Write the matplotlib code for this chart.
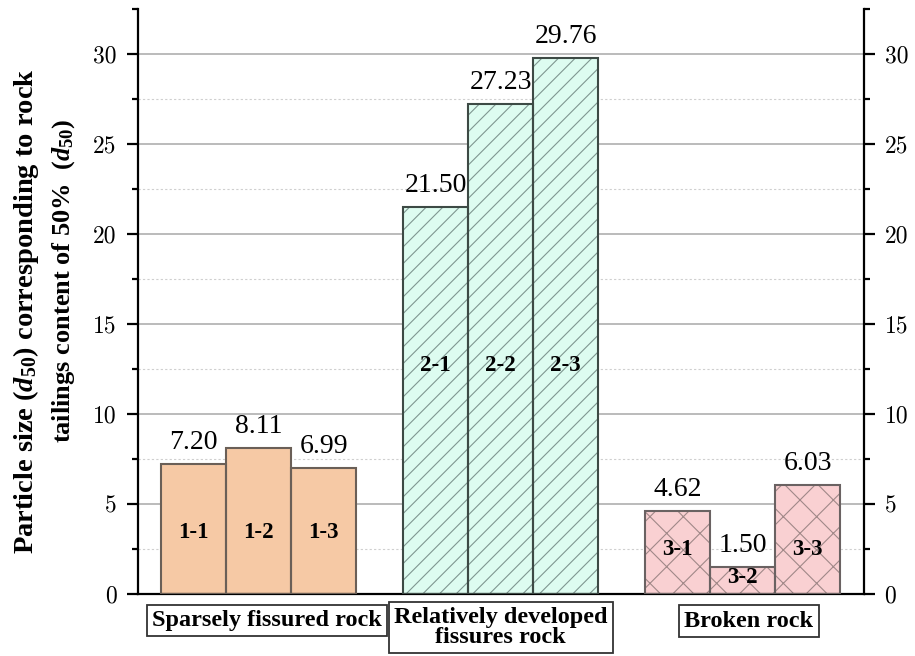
import matplotlib
matplotlib.use("Agg")
import matplotlib.pyplot as plt
import numpy as np
from matplotlib.ticker import MultipleLocator, FixedLocator, NullFormatter

plt.rcParams['mathtext.fontset'] = 'custom'
plt.rcParams['mathtext.it'] = 'Liberation Serif:italic:bold'
plt.rcParams['mathtext.rm'] = 'Liberation Serif:bold'
plt.rcParams['mathtext.bf'] = 'Liberation Serif:bold'
plt.rcParams['hatch.linewidth'] = 0.8

# d50 values per rock type (three samples each)
groups = ["Sparsely fissured rock", "Relatively developed\nfissures rock", "Broken rock"]
sample_ids = [["1-1", "1-2", "1-3"], ["2-1", "2-2", "2-3"], ["3-1", "3-2", "3-3"]]
d50_sparse = [7.20, 8.11, 6.99]
d50_developed = [21.50, 27.23, 29.76]
d50_broken = [4.62, 1.50, 6.03]
# heights at which the sample ids are written inside the bars
id_heights = [[3.4, 3.4, 3.4], [12.7, 12.7, 12.7], [2.5, 0.9, 2.5]]

values = [d50_sparse, d50_developed, d50_broken]
fills = ["#F6C9A5", "#DDFCF0", "#F9D0D2"]
hatch_colors = ["none", "#7f9790", "#a08888"]
outline_colors = ["#6a5f57", "#3d4a45", "#6a6262"]
hatches = [None, "//", "x"]

fig = plt.figure(figsize=(9.15, 6.56), dpi=100)
ax = fig.add_axes([0.1503, 0.0945, 0.7937, 0.8918])

width = 0.2686
serif = "Liberation Serif"

for g, vals in enumerate(values):
    centre = g + 1
    xs = centre + np.array([-1, 0, 1]) * width
    ax.bar(xs, vals, width=width, color=fills[g], edgecolor=hatch_colors[g] if hatches[g] else "none",
           hatch=hatches[g], linewidth=0, zorder=2)
    ax.bar(xs, vals, width=width, color="none", edgecolor=outline_colors[g], linewidth=1.5, zorder=3)
    for x, v, sid, h in zip(xs, vals, sample_ids[g], id_heights[g]):
        ax.text(x, v + 0.5, f"{v:.2f}", ha="center", va="bottom", family=serif, fontsize=20, zorder=5)
        ax.text(x, h, sid, ha="center", va="center", family=serif, fontweight="bold", fontsize=16.5, zorder=5)

# category captions in boxes under the axis
caption_x = [1.035, 2.0, 3.025]
caption_y = [-1.47, -1.86, -1.5]
for x, y, name in zip(caption_x, caption_y, groups):
    ax.text(x, y, name, ha="center", va="center", family=serif, fontweight="bold", fontsize=17.5,
            linespacing=0.9, clip_on=False,
            bbox=dict(boxstyle="square,pad=0.22", facecolor="white", edgecolor="#333333", linewidth=1.3))

ax.set_xlim(0.5, 3.5)
ax.set_ylim(0, 32.5)

ax.yaxis.set_major_locator(MultipleLocator(5))
ax.yaxis.set_minor_locator(MultipleLocator(2.5))
ax.xaxis.set_major_locator(FixedLocator([1, 2, 3]))
ax.xaxis.set_major_formatter(NullFormatter())

ax.grid(axis="y", which="major", color="#a8a8a8", linewidth=1.1, zorder=0)
# dashed guide lines at the half-steps below the top of the axis
half_steps = np.arange(2.5, 30, 5.0)
ax.hlines(half_steps, 0.5, 3.5, colors="#cfcfcf", linewidth=0.8, linestyles=(0, (2, 2)), zorder=0)
ax.set_axisbelow(True)

for side in ["left", "right", "bottom"]:
    ax.spines[side].set_linewidth(1.6)
    ax.spines[side].set_color("black")
ax.spines["top"].set_visible(False)

ax.tick_params(axis="y", which="major", direction="out", length=8, width=1.6,
               left=True, right=True, labelleft=True, labelright=True, labelsize=17, pad=7)
ax.tick_params(axis="y", which="minor", direction="out", length=4, width=1.6, left=True, right=True)
ax.tick_params(axis="x", which="major", direction="in", length=8, width=1.6)
for tick in ax.yaxis.get_major_ticks():
    tick.label1.set_family("cmr10")
    tick.label2.set_family("cmr10")

fig.text(0.028, 0.526, r"Particle size ($d_{\mathit{50}}$) corresponding to rock",
         rotation=90, ha="center", va="center", family=serif, fontweight="bold", fontsize=20.5)
fig.text(0.070, 0.572, r"tailings content of 50%  ($d_{\mathit{50}}$)",
         rotation=90, ha="center", va="center", family=serif, fontweight="bold", fontsize=19)

fig.savefig("out.png", dpi=100)
